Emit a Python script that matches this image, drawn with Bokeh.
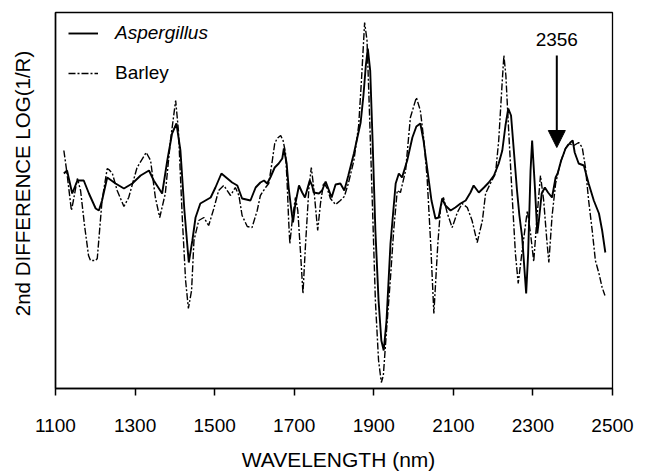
from bokeh.plotting import figure
from bokeh.models import Range1d, FixedTicker, Label, Legend, LegendItem, Arrow, NormalHead
from bokeh.embed import file_html
from bokeh.resources import INLINE

# ---- data (y in arbitrary 2nd-difference units) ----
asp_wl = [1121, 1129, 1142, 1155, 1171, 1184, 1201, 1209, 1217, 1230, 1251, 1272, 1293, 1314,
          1335, 1347, 1368, 1381, 1393, 1404, 1414, 1424, 1435, 1444, 1452, 1464, 1477, 1490,
          1502, 1517, 1532, 1544, 1557, 1569, 1590, 1603, 1615, 1624, 1632, 1640, 1651, 1661,
          1670, 1674, 1681, 1686, 1692, 1697, 1703, 1712, 1720, 1727, 1734, 1739, 1745, 1749,
          1762, 1770, 1779, 1794, 1804, 1816, 1826, 1836, 1850, 1867, 1874, 1880, 1885, 1891,
          1897, 1904, 1912, 1919, 1925, 1932, 1942, 1955, 1963, 1971, 1984, 1997, 2007, 2017,
          2025, 2035, 2045, 2055, 2063, 2072, 2080, 2093, 2105, 2118, 2131, 2143, 2151, 2164,
          2177, 2189, 2202, 2214, 2223, 2231, 2238, 2245, 2252, 2260, 2266, 2273, 2278, 2283,
          2288, 2294, 2298, 2305, 2311, 2315, 2322, 2330, 2338, 2348, 2357, 2362, 2371, 2382,
          2394, 2400, 2405, 2415, 2428, 2440, 2453, 2466, 2474, 2482]
asp_val = [27, 30, 7, 20, 20, 7, -8, -10, 0, 23, 17, 12, 17, 25,
           30, 20, 7, 40, 67, 77, 50, -10, -62, -40, -17, -3, 0, 3,
           13, 27, 22, 18, 15, 2, 0, 13, 18, 20, 17, 23, 33, 37,
           42, 52, 37, 13, -7, -22, -3, 15, 8, 3, 13, 20, 15, 8,
           7, 10, 19, 3, 16, 17, 10, 25, 47, 78, 105, 135, 152, 130,
           60, -30, -100, -140, -150, -120, -43, 17, 27, 23, 40, 63, 74, 77,
           60, 30, 0, -18, -17, 2, -5, -10, -7, -3, 0, 8, 15, 8,
           13, 18, 25, 37, 50, 75, 92, 85, 50, 10, -15, -37, -65, -93,
           -53, 30, 60, 13, -33, -20, 7, 13, 8, 3, 23, 27, 40, 52,
           58, 60, 48, 37, 35, 17, 0, -13, -30, -52]

bar_wl = [1121, 1128, 1140, 1145, 1155, 1163, 1173, 1183, 1188, 1201, 1205, 1217, 1230, 1234,
          1243, 1255, 1272, 1284, 1305, 1328, 1339, 1351, 1362, 1376, 1389, 1402, 1409, 1419,
          1427, 1434, 1442, 1448, 1460, 1473, 1485, 1498, 1510, 1523, 1540, 1552, 1561, 1569,
          1582, 1594, 1607, 1615, 1628, 1636, 1645, 1651, 1657, 1666, 1672, 1678, 1682, 1686,
          1689, 1695, 1703, 1709, 1716, 1722, 1728, 1737, 1743, 1749, 1755, 1759, 1766, 1774,
          1783, 1791, 1804, 1816, 1826, 1836, 1850, 1862, 1869, 1877, 1883, 1889, 1897, 1904,
          1912, 1919, 1924, 1932, 1942, 1950, 1959, 1967, 1980, 1992, 2007, 2017, 2026, 2034,
          2043, 2051, 2061, 2068, 2075, 2085, 2097, 2110, 2122, 2135, 2147, 2160, 2173, 2181,
          2193, 2206, 2214, 2223, 2227, 2232, 2239, 2248, 2256, 2263, 2273, 2286, 2294, 2302,
          2311, 2319, 2327, 2335, 2340, 2348, 2357, 2369, 2382, 2390, 2403, 2415, 2424, 2432,
          2440, 2449, 2457, 2466, 2474, 2481]
bar_val = [50, 30, -10, 0, 22, 10, -25, -55, -60, -60, -58, 0, 32, 31,
           27, 10, -6, 3, 33, 48, 40, 3, -17, 7, 60, 100, 70, -20,
           -80, -108, -90, -40, -20, -17, -25, -8, 10, 15, 5, 13, 5, -15,
           -26, -27, -10, 5, 13, 17, 40, 57, 62, 65, 60, 48, 20, -20,
           -43, -20, 3, -10, -53, -93, -47, 13, 33, 13, -13, -30, -3, 18,
           12, 2, -4, 0, 4, 17, 40, 75, 120, 178, 160, 90, -10, -100,
           -160, -182, -175, -130, -77, -30, 10, 8, 30, 83, 103, 90, 60, 23,
           -43, -113, -43, -7, 3, -13, -27, -12, -3, -7, -20, -42, -20, 7,
           17, 27, 60, 120, 145, 125, 70, 3, -53, -83, -50, -10, -33, -61,
           -13, 25, 0, -40, -62, -16, 17, 38, 52, 57, 55, 58, 53, 33,
           0, -30, -60, -73, -87, -95]

x_ticks = [1100, 1300, 1500, 1700, 1900, 2100, 2300, 2500]
x_min, x_max = 1100, 2500
y_min, y_max = -188, 188

annot_text = "2356"
annot_wl = 2360
annot_y_start = 145
annot_y_end = 53
annot_y_text = 161

FONT = "Liberation Sans"

p = figure(frame_width=557, frame_height=376,
           min_border_left=55, min_border_right=36, min_border_top=12, min_border_bottom=88,
           x_range=Range1d(x_min, x_max), y_range=Range1d(y_min, y_max),
           output_backend="svg", toolbar_location=None)

p.background_fill_color = "white"
p.border_fill_color = "white"
p.outline_line_color = "black"
p.outline_line_width = 1.3
p.xgrid.visible = False
p.ygrid.visible = False

r_asp = p.line(asp_wl, asp_val, line_color="black", line_width=1.9)
r_bar = p.line(bar_wl, bar_val, line_color="black", line_width=1.4, line_dash="7 2 2 2")

# x axis
xa = p.xaxis[0]
xa.ticker = FixedTicker(ticks=x_ticks)
xa.minor_tick_line_color = None
xa.major_tick_in = 0
xa.major_tick_out = 7
xa.major_tick_line_width = 1.5
xa.axis_line_width = 1.5
xa.major_label_text_font = FONT
xa.major_label_text_font_size = "19px"
xa.major_label_text_color = "black"
xa.major_label_standoff = 23

# y axis: no ticks
ya = p.yaxis[0]
ya.ticker = FixedTicker(ticks=[])
ya.minor_tick_line_color = None
ya.major_tick_line_color = None
ya.major_label_text_font_size = "0px"
ya.axis_line_width = 1.5

# axis titles, placed in the side panels (canvas coordinates)
p.add_layout(Label(x=22, y=183, x_units="canvas", y_units="canvas",
                   text="2nd DIFFERENCE LOG(1/R)", angle=1.5707963, text_align="center",
                   text_baseline="middle", text_font=FONT, text_font_size="20.5px",
                   text_color="black"), "left")
p.add_layout(Label(x=338, y=459, x_units="canvas", y_units="canvas",
                   text="WAVELENGTH (nm)", text_align="center", text_baseline="middle",
                   text_font=FONT, text_font_size="21px", text_color="black"), "below")

# annotation arrow
p.add_layout(Arrow(x_start=annot_wl, y_start=annot_y_start, x_end=annot_wl, y_end=annot_y_end,
                   line_color="black", line_width=2,
                   end=NormalHead(size=17, fill_color="black", line_color="black")))
p.add_layout(Label(x=annot_wl, y=annot_y_text, text=annot_text, text_align="center",
                   text_baseline="middle", text_font=FONT, text_font_size="19px",
                   text_color="black"))

# legends
common = dict(padding=0, margin=0, spacing=0, glyph_width=30, glyph_height=20,
              label_height=20, label_standoff=17, border_line_alpha=0,
              background_fill_alpha=0, label_text_font=FONT, label_text_font_size="19px",
              label_text_color="black")
leg1 = Legend(items=[LegendItem(label="Aspergillus", renderers=[r_asp])], location=(13, 344),
              label_text_font_style="italic", **common)
leg2 = Legend(items=[LegendItem(label="Barley", renderers=[r_bar])], location=(13, 304),
              **common)
p.add_layout(leg1)
p.add_layout(leg2)

open("out.html", "w").write(file_html(p, INLINE))
